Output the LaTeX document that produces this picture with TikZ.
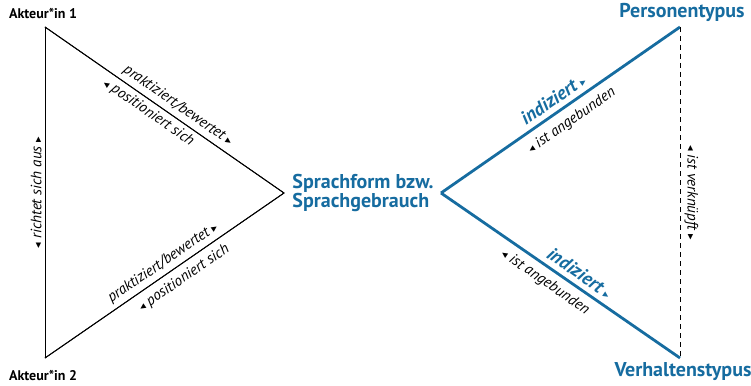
\documentclass[tikz,border=0pt]{standalone}
\usepackage{fontspec}
\setmainfont{PT Sans}
\newfontfamily\symfont{DejaVu Sans}
\definecolor{blu}{RGB}{22,108,160}
\newcommand{\rtri}{{\symfont\fontsize{11}{11}\selectfont ▸}}
\newcommand{\ltri}{{\symfont\fontsize{11}{11}\selectfont ◂}}
\tikzset{
  thinedge/.style={draw=black, line width=0.9pt},
  bluedge/.style={draw=blu, line width=2.8pt},
  dashedge/.style={draw=black, line width=0.9pt, dash pattern=on 5pt off 4pt},
  lab/.style={font=\fontsize{15}{17}\selectfont\itshape, inner sep=0pt, sloped},
  bluelab/.style={font=\fontsize{19}{21}\selectfont\bfseries\itshape, text=blu, inner sep=0pt, sloped},
  corner/.style={font=\fontsize{14}{16}\selectfont\bfseries, inner sep=0pt},
  bluecorner/.style={font=\fontsize{20}{22}\selectfont\bfseries, text=blu, inner sep=0pt},
}
\begin{document}
\begin{tikzpicture}[x=1pt,y=-1pt]
\useasboundingbox (0,0) rectangle (751,385);
\coordinate (A1) at (45,27);
\coordinate (A2) at (45,358);
\coordinate (R) at (284,193);
\coordinate (V) at (441,193);
\coordinate (P) at (680,27);
\coordinate (H) at (680,358);

\node[corner] (a1) at (43,13) {Akteur*in 1};
\node[corner] (a2) at (43,375) {Akteur*in 2};
\node[bluecorner] (pt) at (682,12) {Personentypus};
\node[bluecorner] (vt) at (683,372) {Verhaltenstypus};
\node[bluecorner, align=left, font=\fontsize{20}{19}\selectfont\bfseries] (sp) at (363,193) {Sprachform bzw.\\Sprachgebrauch};

\draw[thinedge] (A1) -- node[lab, pos=0.53, above=4pt] {praktiziert/bewertet \rtri}
  node[lab, pos=0.46, below=4pt] {\ltri\ positioniert sich} (R);
\draw[thinedge] (A2) -- node[lab, pos=0.52, above=4pt] {praktiziert/bewertet \rtri}
  node[lab, pos=0.55, below=6pt] {\ltri\ positioniert sich} (R);
\draw[thinedge] (A2) -- node[lab, pos=0.5, above=3pt] {\ltri\ richtet sich aus \rtri} (A1);
\draw[thinedge] (A1) -- (R) -- (A2);

\draw[bluedge] (V) -- node[bluelab, pos=0.5, above=5pt] {indiziert \textcolor{blu}{\rtri}}
  node[lab, pos=0.51, below=7pt] {\ltri\ ist angebunden} (P);
\draw[bluedge] (V) -- node[bluelab, pos=0.55, above=5pt] {indiziert \textcolor{blu}{\rtri}}
  node[lab, pos=0.47, below=6pt] {\ltri\ ist angebunden} (H);
\draw[dashedge] (P) -- node[lab, pos=0.5, above=4pt] {\ltri\ ist verknüpft \rtri} (H);
\end{tikzpicture}
\end{document}
